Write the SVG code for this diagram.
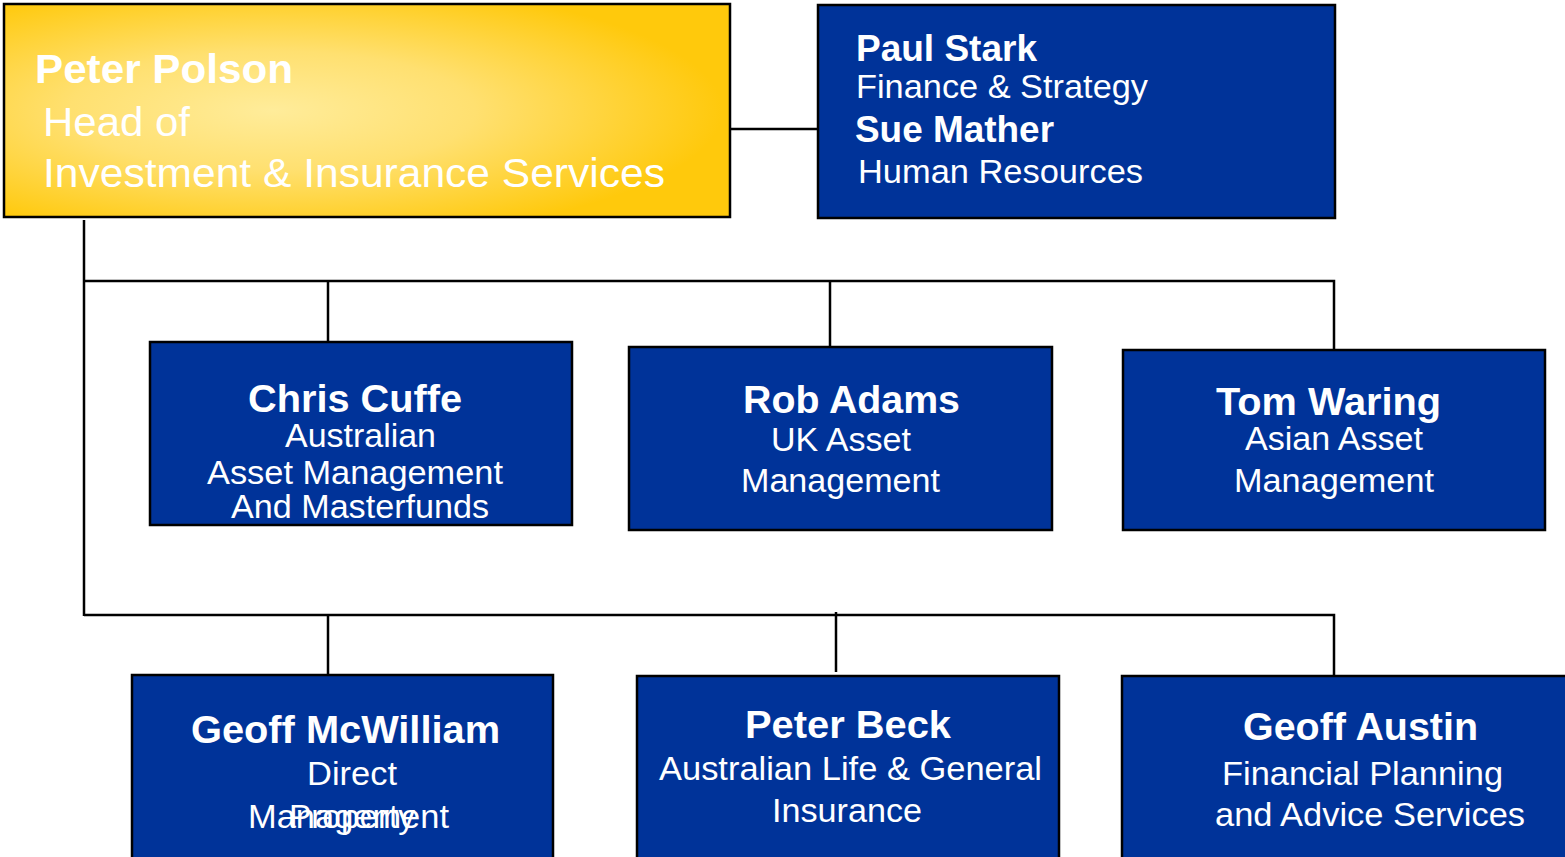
<svg xmlns="http://www.w3.org/2000/svg" width="1565" height="857" viewBox="0 0 1565 857">
<defs>
<radialGradient id="gold" cx="0.37" cy="0.5" r="0.62">
<stop offset="0" stop-color="#FFEC9A"/>
<stop offset="0.45" stop-color="#FFE070"/>
<stop offset="1" stop-color="#FFC90C"/>
</radialGradient>
<style>
.box{fill:#003399;stroke:#000;stroke-width:2.5}
.gold{fill:url(#gold);stroke:#000;stroke-width:2.5}
.ln{stroke:#000;stroke-width:2.5;fill:none}
text{font-family:"Liberation Sans",Arial,sans-serif;fill:#fff}
.b{font-weight:bold}
.c{text-anchor:middle}
</style>
</defs>
<rect width="1565" height="857" fill="#fff"/>
<g id="connectors">
<line class="ln" x1="730" y1="129" x2="818" y2="129"/>
<line class="ln" x1="84" y1="220" x2="84" y2="616"/>
<polyline class="ln" points="84,281 1334,281 1334,350"/>
<line class="ln" x1="328" y1="281" x2="328" y2="342"/>
<line class="ln" x1="830" y1="281" x2="830" y2="355"/>
<polyline class="ln" points="84,615 1334,615 1334,676"/>
<line class="ln" x1="328" y1="615" x2="328" y2="675"/>
<line class="ln" x1="836" y1="612" x2="836" y2="672"/>
</g>
<g id="peter-polson">
<rect class="gold" x="4" y="4" width="726" height="213"/>
<text class="b" x="35" y="83" font-size="40" textLength="258" lengthAdjust="spacingAndGlyphs">Peter Polson</text>
<text x="43" y="136" font-size="40" textLength="147" lengthAdjust="spacingAndGlyphs">Head of</text>
<text x="43" y="187" font-size="40" textLength="622" lengthAdjust="spacingAndGlyphs">Investment &amp; Insurance Services</text>
</g>
<g id="paul-stark">
<rect class="box" x="818" y="5" width="517" height="213"/>
<text class="b" x="856" y="61" font-size="36" textLength="181" lengthAdjust="spacingAndGlyphs">Paul Stark</text>
<text x="856" y="98" font-size="33" textLength="292" lengthAdjust="spacingAndGlyphs">Finance &amp; Strategy</text>
<text class="b" x="855" y="142" font-size="36" textLength="199" lengthAdjust="spacingAndGlyphs">Sue Mather</text>
<text x="858" y="183" font-size="33" textLength="285" lengthAdjust="spacingAndGlyphs">Human Resources</text>
</g>
<g id="chris-cuffe">
<rect class="box" x="150" y="342" width="422" height="183"/>
<text class="b" x="248" y="412" font-size="38" textLength="214" lengthAdjust="spacingAndGlyphs">Chris Cuffe</text>
<text x="285" y="447" font-size="33" textLength="151" lengthAdjust="spacingAndGlyphs">Australian</text>
<text x="207" y="484" font-size="33" textLength="296" lengthAdjust="spacingAndGlyphs">Asset Management</text>
<text x="231" y="518" font-size="33" textLength="258" lengthAdjust="spacingAndGlyphs">And Masterfunds</text>
</g>
<g id="rob-adams">
<rect class="box" x="629" y="347" width="423" height="183"/>
<text class="b" x="743" y="413" font-size="38" textLength="217" lengthAdjust="spacingAndGlyphs">Rob Adams</text>
<text x="771" y="451" font-size="33" textLength="140" lengthAdjust="spacingAndGlyphs">UK Asset</text>
<text x="741" y="492" font-size="33" textLength="199" lengthAdjust="spacingAndGlyphs">Management</text>
</g>
<g id="tom-waring">
<rect class="box" x="1123" y="350" width="422" height="180"/>
<text class="b" x="1216" y="415" font-size="38" textLength="225" lengthAdjust="spacingAndGlyphs">Tom Waring</text>
<text x="1245" y="450" font-size="33" textLength="178" lengthAdjust="spacingAndGlyphs">Asian Asset</text>
<text x="1234" y="492" font-size="33" textLength="200" lengthAdjust="spacingAndGlyphs">Management</text>
</g>
<g id="geoff-mcwilliam">
<rect class="box" x="132" y="675" width="421" height="190"/>
<text class="b" x="191" y="743" font-size="38" textLength="309" lengthAdjust="spacingAndGlyphs">Geoff McWilliam</text>
<text x="307" y="785" font-size="33" textLength="90" lengthAdjust="spacingAndGlyphs">Direct</text>
<text x="289" y="828" font-size="33" textLength="126" lengthAdjust="spacingAndGlyphs">Property</text>
<text x="248" y="828" font-size="33" textLength="201" lengthAdjust="spacingAndGlyphs">Management</text>
</g>
<g id="peter-beck">
<rect class="box" x="637" y="676" width="422" height="190"/>
<text class="b" x="745" y="738" font-size="38" textLength="206" lengthAdjust="spacingAndGlyphs">Peter Beck</text>
<text x="659" y="780" font-size="33" textLength="383" lengthAdjust="spacingAndGlyphs">Australian Life &amp; General</text>
<text x="772" y="822" font-size="33" textLength="150" lengthAdjust="spacingAndGlyphs">Insurance</text>
</g>
<g id="geoff-austin">
<rect class="box" x="1122" y="676" width="450" height="190"/>
<text class="b" x="1243" y="740" font-size="38" textLength="235" lengthAdjust="spacingAndGlyphs">Geoff Austin</text>
<text x="1222" y="785" font-size="33" textLength="281" lengthAdjust="spacingAndGlyphs">Financial Planning</text>
<text x="1215" y="826" font-size="33" textLength="310" lengthAdjust="spacingAndGlyphs">and Advice Services</text>
</g>
</svg>
